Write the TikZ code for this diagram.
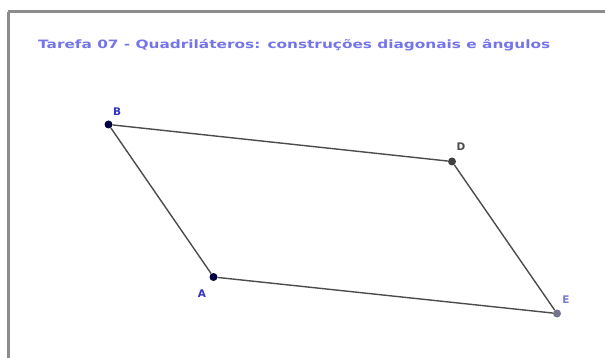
\documentclass[tikz,border=0pt]{standalone}
\usepackage{fontspec}
\setmainfont{DejaVu Sans}
\usepackage{graphicx}
\begin{document}
\begin{tikzpicture}[x=1pt,y=-1pt,
  edge/.style={draw=black!70, line width=1.4pt},
  pt/.style={circle, inner sep=0pt, minimum size=8pt},
  lbl/.style={font=\fontsize{10.5}{10.5}\selectfont\bfseries}]
\useasboundingbox (0,0) rectangle (605,358);
\fill[white] (0,0) rectangle (605,358);
\draw[line width=3pt, draw=black!45] (8,12) -- (612,12) (8,12) -- (8,370);
\node[anchor=west, inner sep=0pt, text=blue!50!white!92!black] (title) at (38,45)
  {\resizebox{512pt}{\height}{\fontsize{11.5}{12}\selectfont\bfseries Tarefa 07 - Quadriláteros: construções diagonais e ângulos}};
\node[pt, fill=blue!25!black] (B) at (108.5,124.5) {};
\node[pt, fill=blue!25!black] (A) at (213.5,277) {};
\node[pt, fill=black!75] (D) at (452,161.5) {};
\node[pt, fill=blue!20!black!55] (E) at (557,313.5) {};
\draw[edge] (B) -- (A);
\draw[edge] (A) -- (E);
\draw[edge] (B) -- (D);
\draw[edge] (D) -- (E);
\node[lbl, text=blue!70!black!80] (lB) at (117,112) {B};
\node[lbl, text=blue!70!black!80] (lA) at (202,294) {A};
\node[lbl, text=black!70] (lD) at (461,147) {D};
\node[lbl, text=blue!40!white!80!black] (lE) at (566,300) {E};
\end{tikzpicture}
\end{document}
